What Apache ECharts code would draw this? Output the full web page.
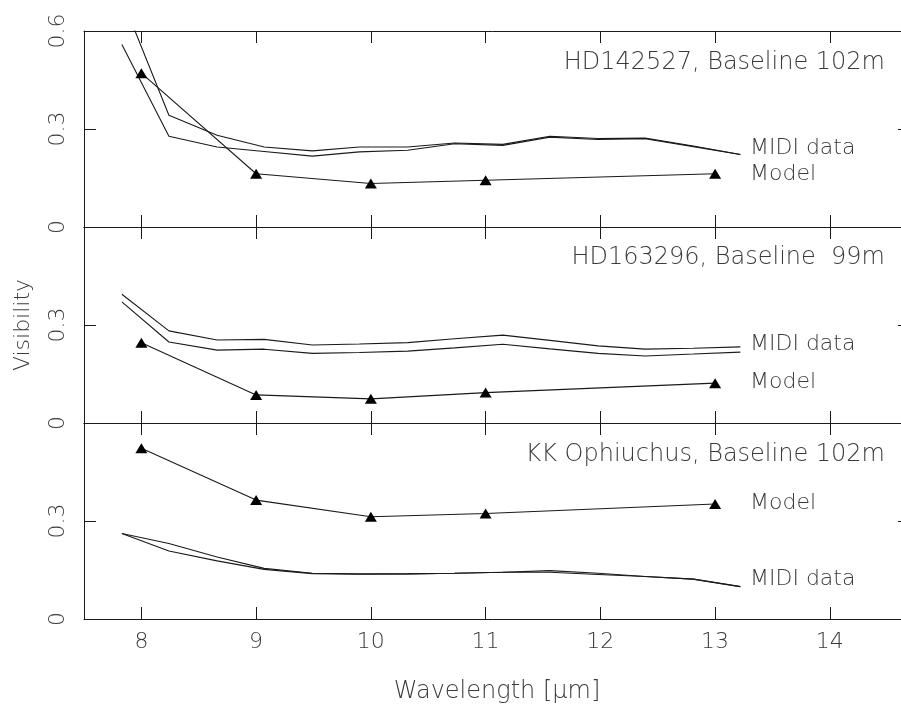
<!DOCTYPE html>
<html><head><meta charset="utf-8">
<script src="https://cdn.jsdelivr.net/npm/echarts@6/dist/echarts.min.js"></script>
<style>html,body{margin:0;padding:0;background:#fff}#c{width:901px;height:704px}</style>
</head><body><div id="c"></div>
<script>
// MIDI spectral sampling (µm)
var wl = [7.83, 8.24, 8.66, 9.07, 9.49, 9.90, 10.32, 10.73, 11.15, 11.56, 11.98, 12.39, 12.81, 13.22];
var p1MidiA = [0.70, 0.342, 0.281, 0.245, 0.233, 0.245, 0.245, 0.257, 0.253, 0.278, 0.271, 0.272, 0.248, 0.222];
var p1MidiB = [0.559, 0.278, 0.245, 0.231, 0.217, 0.230, 0.235, 0.255, 0.250, 0.275, 0.268, 0.270, 0.246, 0.222];
var p2MidiA = [0.394, 0.282, 0.254, 0.256, 0.239, 0.242, 0.246, 0.258, 0.269, 0.253, 0.236, 0.226, 0.229, 0.233];
var p2MidiB = [0.371, 0.248, 0.223, 0.226, 0.213, 0.216, 0.220, 0.230, 0.241, 0.227, 0.213, 0.205, 0.211, 0.217];
var p3MidiA = [0.262, 0.231, 0.190, 0.155, 0.140, 0.138, 0.138, 0.140, 0.143, 0.148, 0.140, 0.130, 0.122, 0.099];
var p3MidiB = [0.262, 0.208, 0.178, 0.152, 0.139, 0.137, 0.138, 0.140, 0.143, 0.143, 0.136, 0.130, 0.122, 0.099];
// Model points
var modelX = [8, 9, 10, 11, 13];
var p1Model = [0.471, 0.163, 0.133, 0.143, 0.163];
var p2Model = [0.246, 0.086, 0.074, 0.093, 0.122];
var p3Model = [0.523, 0.364, 0.313, 0.323, 0.352];
// ticks
var xTicks = [8, 9, 10, 11, 12, 13, 14];
var panelTitles = ['HD142527, Baseline 102m', 'HD163296, Baseline  99m', 'KK Ophiuchus, Baseline 102m'];

var FONT = 'DejaVu Sans';
var FW = 200;
var INK = '#1a1a1a';
var TXT = '#3a3a3a';
function pairs(xs, ys){ return xs.map(function(x,i){ return [x, ys[i]]; }); }

var tops = [31, 227, 423];
var grids = tops.map(function(t){ return {left: 84, right: 0, top: t, height: 196}; });

var xAxes = [], yAxes = [];
for (var g = 0; g < 3; g++) {
  ['bottom','top'].forEach(function(pos){
    var showLab = (g === 2 && pos === 'bottom');
    xAxes.push({
      type: 'value', gridIndex: g, position: pos, min: 7.5, max: 14.62,
      splitLine: {show: false},
      axisLine: {show: true, onZero: false, lineStyle: {color: INK, width: 1}},
      axisTick: {show: true, inside: true, length: 12, customValues: xTicks, lineStyle: {color: INK}},
      axisLabel: {show: showLab, customValues: xTicks, margin: 12, fontFamily: FONT, fontWeight: FW, fontSize: 22, color: TXT}
    });
  });
  (function(gi){
    ['left','right'].forEach(function(pos){
      yAxes.push({
        type: 'value', gridIndex: gi, position: pos, min: 0, max: 0.6, interval: 0.3,
        splitLine: {show: false},
        axisLine: {show: pos === 'left', onZero: false, lineStyle: {color: INK, width: 1}},
        axisTick: {show: true, inside: true, length: pos === 'left' ? 12 : 3, lineStyle: {color: INK}},
        axisLabel: {show: pos === 'left', rotate: 90, margin: 15, fontFamily: FONT, fontWeight: FW, fontSize: 22, color: TXT,
          formatter: function(v){
            if (gi > 0 && v > 0.5) return '';
            if (v === 0) return '0';
            return v.toFixed(1);
          }}
      });
    });
  })(g);
}

var midi = [[p1MidiA, p1MidiB], [p2MidiA, p2MidiB], [p3MidiA, p3MidiB]];
var models = [p1Model, p2Model, p3Model];
var series = [];
for (var k = 0; k < 3; k++) {
  midi[k].forEach(function(arr){
    series.push({type: 'line', xAxisIndex: 2*k, yAxisIndex: 2*k, data: pairs(wl, arr),
      showSymbol: false, symbol: 'none', clip: true, silent: true,
      lineStyle: {color: INK, width: 1.1}});
  });
  series.push({type: 'line', xAxisIndex: 2*k, yAxisIndex: 2*k, data: pairs(modelX, models[k]),
    symbol: 'triangle', symbolSize: [12, 10], clip: true, silent: true,
    itemStyle: {color: '#000'}, lineStyle: {color: INK, width: 1.1}});
}

function txt(x, y, s, align, size){
  return {type: 'text', x: x, y: y, style: {text: s, fontFamily: FONT, fontWeight: FW, fontSize: size || 22, fill: TXT,
    textAlign: align || 'left', textVerticalAlign: 'middle'}};
}
var graphics = [
  txt(885, 63, panelTitles[0], 'right', 24),
  txt(750, 148, 'MIDI data'), txt(750, 174, 'Model'),
  txt(885, 258, panelTitles[1], 'right', 24),
  txt(750, 344, 'MIDI data'), txt(750, 382, 'Model'),
  txt(885, 455, panelTitles[2], 'right', 24),
  txt(750, 503, 'Model'), txt(750, 579, 'MIDI data'),
  txt(497, 692, 'Wavelength [\u03BCm]', 'center', 24),
  {type: 'text', x: 23, y: 325, rotation: Math.PI/2, style: {text: 'Visibility', fontFamily: FONT, fontWeight: FW, fontSize: 22, fill: TXT,
    textAlign: 'center', textVerticalAlign: 'middle'}}
];

var chart = echarts.init(document.getElementById('c'), null, {renderer: 'canvas'});
chart.setOption({
  backgroundColor: '#fff', animation: false,
  grid: grids, xAxis: xAxes, yAxis: yAxes, series: series, graphic: graphics
});
</script></body></html>
